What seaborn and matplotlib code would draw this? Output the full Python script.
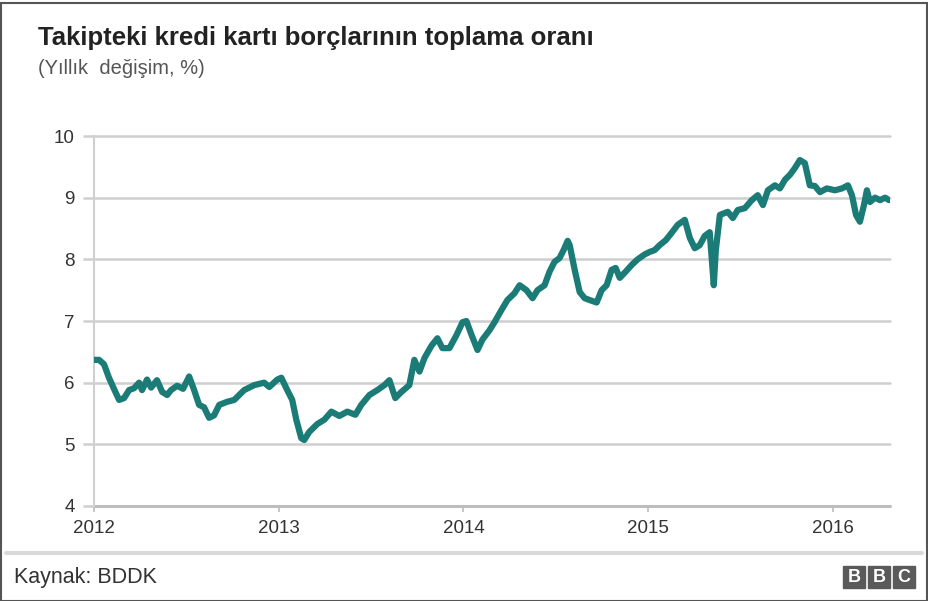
import matplotlib
matplotlib.use("Agg")
import matplotlib.pyplot as plt
import seaborn as sns
import pandas as pd
from matplotlib.patches import Rectangle

title = "Takipteki kredi kartı borçlarının toplama oranı"
subtitle = "(Yıllık  değişim, %)"
source = "Kaynak: BDDK"

years = [2012.000, 2012.027, 2012.054, 2012.081, 2012.108, 2012.136, 2012.163, 2012.190,
         2012.217, 2012.244, 2012.260, 2012.287, 2012.309, 2012.341, 2012.369, 2012.396,
         2012.417, 2012.450, 2012.482, 2012.515, 2012.542, 2012.569, 2012.596, 2012.623,
         2012.650, 2012.678, 2012.721, 2012.759, 2012.813, 2012.867, 2012.921, 2012.949,
         2012.992, 2013.014, 2013.046, 2013.073, 2013.095, 2013.122, 2013.138, 2013.165,
         2013.209, 2013.247, 2013.285, 2013.328, 2013.371, 2013.415, 2013.447, 2013.491,
         2013.534, 2013.572, 2013.599, 2013.631, 2013.664, 2013.707, 2013.734, 2013.762,
         2013.789, 2013.827, 2013.859, 2013.886, 2013.924, 2013.962, 2013.995, 2014.016,
         2014.043, 2014.076, 2014.103, 2014.141, 2014.168, 2014.206, 2014.238, 2014.276,
         2014.304, 2014.341, 2014.374, 2014.401, 2014.439, 2014.466, 2014.493, 2014.520,
         2014.542, 2014.564, 2014.575, 2014.602, 2014.629, 2014.656, 2014.683, 2014.721,
         2014.748, 2014.775, 2014.802, 2014.824, 2014.846, 2014.878, 2014.911, 2014.943,
         2014.981, 2015.008, 2015.035, 2015.062, 2015.095, 2015.127, 2015.160, 2015.198,
         2015.225, 2015.252, 2015.279, 2015.306, 2015.333, 2015.355, 2015.366, 2015.388,
         2015.431, 2015.458, 2015.485, 2015.523, 2015.561, 2015.593, 2015.621, 2015.648,
         2015.686, 2015.713, 2015.740, 2015.767, 2015.794, 2015.821, 2015.848, 2015.875,
         2015.902, 2015.930, 2015.967, 2016.011, 2016.049, 2016.081, 2016.103, 2016.125,
         2016.146, 2016.168, 2016.184, 2016.201, 2016.228, 2016.255, 2016.282, 2016.304]

rate = [6.37, 6.37, 6.30, 6.08, 5.90, 5.72, 5.75, 5.88,
        5.91, 6.00, 5.88, 6.05, 5.92, 6.04, 5.85, 5.80,
        5.88, 5.95, 5.90, 6.10, 5.88, 5.64, 5.60, 5.43,
        5.47, 5.64, 5.69, 5.72, 5.88, 5.96, 6.00, 5.93,
        6.05, 6.08, 5.88, 5.72, 5.40, 5.10, 5.07, 5.20,
        5.33, 5.40, 5.53, 5.46, 5.53, 5.48, 5.64, 5.80,
        5.88, 5.96, 6.04, 5.75, 5.85, 5.96, 6.37, 6.18,
        6.40, 6.60, 6.72, 6.56, 6.56, 6.77, 6.98, 7.00,
        6.78, 6.53, 6.70, 6.85, 6.98, 7.18, 7.34, 7.45,
        7.58, 7.50, 7.37, 7.50, 7.58, 7.80, 7.96, 8.02,
        8.15, 8.30, 8.23, 7.83, 7.47, 7.37, 7.34, 7.30,
        7.50, 7.58, 7.83, 7.86, 7.70, 7.80, 7.91, 8.00,
        8.08, 8.12, 8.15, 8.23, 8.31, 8.43, 8.56, 8.64,
        8.35, 8.18, 8.23, 8.38, 8.44, 7.58, 8.15, 8.72,
        8.77, 8.67, 8.80, 8.83, 8.96, 9.04, 8.88, 9.12,
        9.20, 9.15, 9.29, 9.37, 9.48, 9.61, 9.56, 9.20,
        9.19, 9.09, 9.15, 9.12, 9.15, 9.20, 9.04, 8.72,
        8.61, 8.88, 9.12, 8.93, 9.00, 8.96, 9.00, 8.96]

y_ticks = [4, 5, 6, 7, 8, 9, 10]
x_ticks = [2012, 2013, 2014, 2015, 2016]
x_labels = ["2012", "2013", "2014", "2015", "2016"]

df = pd.DataFrame({"year": years, "rate": rate})

sns.set_theme(style="white")
plt.rcParams["font.family"] = ["Liberation Sans", "DejaVu Sans"]

W, H = 929, 601
fig = plt.figure(figsize=(W / 100, H / 100), dpi=100)
ax = fig.add_axes([94 / W, 1 - 506 / H, (890 - 94) / W, (506 - 136) / H])

grid_c = "#cfcfcf"
for v in y_ticks:
    ax.axhline(v, color=grid_c if v != 4 else "#bdbdbd", lw=1.8 if v != 4 else 2.2,
               zorder=1, clip_on=False)

sns.lineplot(data=df, x="year", y="rate", ax=ax, color="#1b7b77", lw=4.5,
             zorder=3, solid_joinstyle="round", solid_capstyle="round")

ax.set_xlim(2012, 2012 + (890 - 95) / 184.5)
ax.set_ylim(4, 10)
ax.set_yticks(y_ticks)
ax.set_yticklabels([str(v) for v in y_ticks])
ax.set_xticks(x_ticks)
ax.set_xticklabels(x_labels)
ax.set_xlabel("")
ax.set_ylabel("")
for s in ["top", "right", "bottom"]:
    ax.spines[s].set_visible(False)
ax.spines["left"].set_color("#d0d0d0")
ax.spines["left"].set_linewidth(1.5)
ax.tick_params(axis="y", length=8, width=1.8, color=grid_c, labelsize=13.5,
               labelcolor="#333333", pad=6, left=True)
ax.tick_params(axis="x", length=4, width=1.2, color="#bdbdbd", labelsize=13.5,
               labelcolor="#333333", pad=6, bottom=True)
ax.set_facecolor("white")

fig.text(38 / W, 1 - 38 / H, title, fontsize=18.5, fontweight="bold",
         color="#222222", va="center", ha="left")
fig.text(38 / W, 1 - 69 / H, subtitle, fontsize=14.5, color="#555555",
         va="center", ha="left")

# footer separator
fig.add_artist(plt.Line2D([6 / W, 922 / W], [1 - 553 / H, 1 - 553 / H],
                          color="#d9d9d9", lw=3))
fig.text(14 / W, 1 - 577 / H, source, fontsize=15.5, color="#333333",
         va="center", ha="left")

# BBC logo
for i, letter in enumerate("BBC"):
    x0 = 843 + i * 25
    fig.add_artist(Rectangle((x0 / W, 1 - 588 / H), 22 / W, 22 / H,
                             transform=fig.transFigure, color="#5a5a5a"))
    fig.text((x0 + 11) / W, 1 - 577 / H, letter, fontsize=13, fontweight="bold",
             color="white", ha="center", va="center")

# outer border
fig.add_artist(Rectangle((1.5 / W, 0), (W - 3.5) / W, (H - 2.5) / H,
                         transform=fig.transFigure, fill=False,
                         edgecolor="#555555", lw=1.5))

fig.savefig("out.png", dpi=100, facecolor="white")
